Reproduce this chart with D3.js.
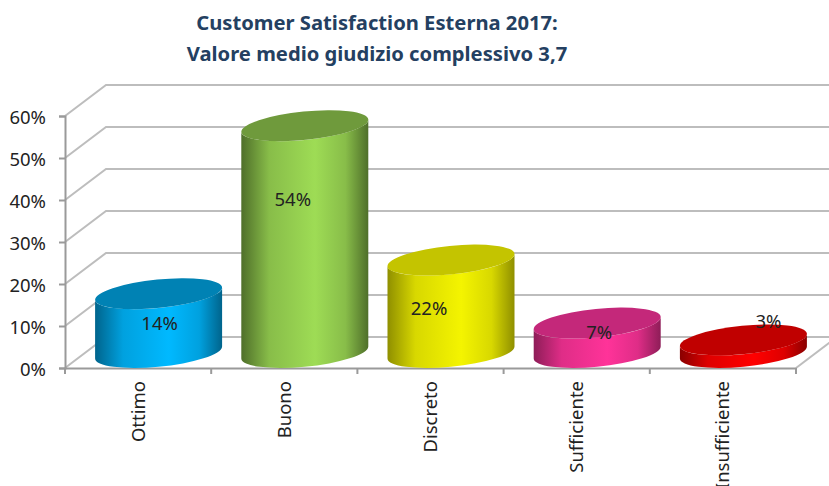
<!DOCTYPE html>
<html>
<head>
<meta charset="utf-8">
<script src="https://cdn.jsdelivr.net/npm/d3@7"></script>
<style>
html, body { margin: 0; padding: 0; background: #fff; overflow: hidden; }
svg, svg text { font-family: "Noto Sans", sans-serif; }
svg { display: block; }
</style>
</head>
<body>
<div id="chart"></div>
<script>
var categories = ["Ottimo", "Buono", "Discreto", "Sufficiente", "Insufficiente"];
var values = [14, 54, 22, 7, 3];
var yTicks = [0, 10, 20, 30, 40, 50, 60];
var titleLines = ["Customer Satisfaction Esterna 2017:", "Valore medio giudizio complessivo 3,7"];

// side, bright, top face
var colors = [
    ["#00648c", "#00b9ff", "#0082b4"],
    ["#4f6f2a", "#9edc55", "#6f9a3c"],
    ["#8f8f00", "#f4f400", "#c4c400"],
    ["#8e1d58", "#ff3399", "#c4287a"],
    ["#8a0000", "#ff0000", "#c00000"]
];
// the labels were moved by hand in the original
var labelNudge = [[1, 0], [-12, -40], [-22, 2], [2, -5], [25, -25]];

var width = 829, height = 486;
var depthX = 41, depthY = 31;

var x = d3.scaleBand().domain(categories).range([65, 796]);
var y = d3.scaleLinear().domain([0, 60]).range([368, 116]);

var svg = d3.select("#chart").append("svg")
    .attr("width", width)
    .attr("height", height);

// walls
svg.append("g").selectAll("path")
    .data(yTicks)
    .enter().append("path")
    .attr("fill", "none")
    .attr("stroke", "#bdbdbd")
    .attr("stroke-width", 2)
    .attr("d", function (d) {
        return d3.line()([[65, y(d)], [65 + depthX, y(d) - depthY], [width, y(d) - depthY]]);
    });

// floor edge on the right
svg.append("path")
    .attr("fill", "none")
    .attr("stroke", "#bdbdbd")
    .attr("stroke-width", 2)
    .attr("d", d3.line()([[796, 368], [796 + depthX, 368 - depthY]]));

// axes
var yAxis = d3.axisLeft(y)
    .tickValues(yTicks)
    .tickFormat(function (d) { return d + "%"; })
    .tickSize(6)
    .tickPadding(13);
var yG = svg.append("g").attr("transform", "translate(65,0)").call(yAxis);

var xAxis = d3.axisBottom(x).tickSize(0).tickPadding(13);
var xG = svg.append("g").attr("transform", "translate(0,368)").call(xAxis);

[yG, xG].forEach(function (g) {
    g.selectAll(".domain").attr("stroke", "#9a9a9a").attr("stroke-width", 2);
    g.selectAll(".tick line").attr("stroke", "#9a9a9a").attr("stroke-width", 2);
    g.selectAll("text").attr("fill", "#222").style("font-size", "18.5px");
});

yG.selectAll(".tick text").attr("dy", "0.38em");

xG.selectAll(".tick text")
    .attr("transform", "rotate(-90)")
    .attr("text-anchor", "end")
    .attr("dy", "0.35em")
    .attr("x", -13)
    .attr("y", 0);

// ticks between the categories
xG.selectAll("line.sep")
    .data(d3.range(categories.length + 1))
    .enter().append("line")
    .attr("class", "sep")
    .attr("x1", function (i) { return 65 + i * x.step(); })
    .attr("x2", function (i) { return 65 + i * x.step(); })
    .attr("y1", 0)
    .attr("y2", 6)
    .attr("stroke", "#9a9a9a")
    .attr("stroke-width", 2);

// gradients for the cylinder sides
var defs = svg.append("defs");
colors.forEach(function (c, i) {
    var g = defs.append("linearGradient").attr("id", "side" + i);
    g.append("stop").attr("offset", "0%").attr("stop-color", c[0]);
    g.append("stop").attr("offset", "22%").attr("stop-color", d3.interpolateRgb(c[0], c[1])(0.72));
    g.append("stop").attr("offset", "58%").attr("stop-color", c[1]);
    g.append("stop").attr("offset", "82%").attr("stop-color", d3.interpolateRgb(c[0], c[1])(0.72));
    g.append("stop").attr("offset", "100%").attr("stop-color", c[0]);
});

// tilted ellipse of the cylinder caps
var a = 63.8, b = 14.2, rot = -5.7;
var th = rot * Math.PI / 180;
var ex = Math.sqrt(a * a * Math.cos(th) * Math.cos(th) + b * b * Math.sin(th) * Math.sin(th));
var ey = (a * a - b * b) * Math.sin(th) * Math.cos(th) / ex; // y of the rightmost point

function cx(d) { return x(d) + x.bandwidth() / 2 + depthX / 2; }
function baseY() { return y(0) - depthY / 2; }
function topY(v) { return baseY() - (y(0) - y(v)); }

var bars = svg.append("g").selectAll("g")
    .data(categories)
    .enter().append("g");

bars.append("path")
    .attr("fill", function (d, i) { return "url(#side" + i + ")"; })
    .attr("d", function (d, i) {
        var c = cx(d), t = topY(values[i]), bt = baseY();
        return "M" + (c - ex) + "," + (t - ey) +
            "L" + (c - ex) + "," + (bt - ey) +
            "A" + a + "," + b + " " + rot + " 0 0 " + (c + ex) + "," + (bt + ey) +
            "L" + (c + ex) + "," + (t + ey) +
            "A" + a + "," + b + " " + rot + " 0 1 " + (c - ex) + "," + (t - ey) + "Z";
    });

bars.append("ellipse")
    .attr("rx", a)
    .attr("ry", b)
    .attr("fill", function (d, i) { return colors[i][2]; })
    .attr("transform", function (d, i) {
        return "translate(" + cx(d) + "," + topY(values[i]) + ") rotate(" + rot + ")";
    });

bars.append("text")
    .attr("text-anchor", "middle")
    .attr("dy", "0.35em")
    .attr("fill", "#222")
    .style("font-size", "18.5px")
    .attr("x", function (d, i) { return cx(d) + labelNudge[i][0]; })
    .attr("y", function (d, i) {
        return (baseY() + topY(values[i])) / 2 + labelNudge[i][1];
    })
    .text(function (d, i) { return values[i] + "%"; });

// title
svg.append("g").selectAll("text")
    .data(titleLines)
    .enter().append("text")
    .attr("x", 377)
    .attr("y", function (d, i) { return 30 + i * 31; })
    .attr("text-anchor", "middle")
    .attr("fill", "#244061")
    .style("font-size", "20.2px")
    .style("font-weight", "700")
    .text(function (d) { return d; });
</script>
</body>
</html>
